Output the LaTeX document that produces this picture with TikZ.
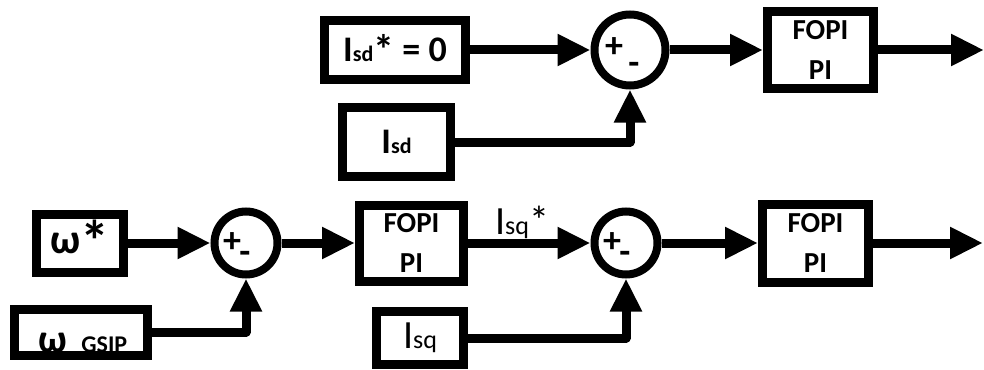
\documentclass[tikz,border=0pt]{standalone}
\usepackage{fontspec}
\setmainfont{Carlito}
\usetikzlibrary{arrows.meta}
\begin{document}
\begin{tikzpicture}[x=1pt,y=-1pt,
  box/.style={draw, line width=9pt, fill=white, inner sep=0pt, align=center},
  sumc/.style={draw, circle, line width=8pt, inner sep=0pt, fill=white},
  conn/.style={line width=9pt, line join=round, -{Triangle[length=33pt,width=30pt]}},
  sgn/.style={inner sep=0pt, font=\bfseries\fontsize{36}{36}\selectfont},
  big/.style={font=\bfseries\fontsize{36}{36}\selectfont},
  fopi/.style={box, font=\bfseries\fontsize{29}{40}\selectfont}]
\useasboundingbox (0,0) rectangle (984,369);
% top row
\node[box, big, minimum width=141pt, minimum height=59pt] (isdref) at (395,50) {I{\fontsize{22}{22}\selectfont sd}\smash{\raisebox{-3pt}{\fontsize{42}{42}\selectfont *}} = 0};
\node[sumc, minimum size=71pt] (s1) at (630,50) {};
\node[sgn] (s1p) at (614,48) {+};
\node[sgn] (s1m) at (634,68) {-};
\node[box, big, minimum width=108pt, minimum height=69pt] (isd) at (396.5,142) {I{\fontsize{22}{22}\selectfont sd}};
\node[fopi, minimum width=106pt, minimum height=76pt] (f1) at (820.5,50) {FOPI\\PI};
\coordinate (o1) at (984,50);
\draw[conn] (isdref) -- (s1);
\draw[conn] (s1) -- (f1);
\draw[conn] (f1) -- (o1);
\draw[conn] (isd.east) -| (s1.south);
% bottom row
\node[box, font=\bfseries\fontsize{42}{42}\selectfont, minimum width=87pt, minimum height=58pt] (w) at (80,243) {ω\smash{\raisebox{-8pt}{\fontsize{58}{58}\selectfont *}}};
\node[sumc, minimum size=63pt] (s2) at (246,243) {};
\node[sgn] (s2p) at (232,243) {+};
\node[sgn] (s2m) at (245,257) {-};
\node[fopi, minimum width=104pt, minimum height=76pt] (f2) at (411.5,243) {FOPI\\PI};
\node[anchor=base, inner sep=0pt, font=\fontsize{40}{40}\selectfont] (isqs) at (522,234) {I{\fontsize{26}{26}\selectfont sq}*};
\node[sumc, minimum size=63pt] (s3) at (626,243) {};
\node[sgn] (s3p) at (612,243) {+};
\node[sgn] (s3m) at (625,257) {-};
\node[fopi, minimum width=106pt, minimum height=78pt] (f3) at (815.5,243) {FOPI\\PI};
\coordinate (o2) at (983,243);
\node[box, outer sep=0pt, minimum width=133pt, minimum height=46pt] (wg) at (81,332) {};
\node[anchor=base, inner sep=0pt] (wgt) at (83,352) {\bfseries\fontsize{40}{40}\selectfont ω\hspace{14pt}{\fontsize{24}{24}\selectfont GSIP}};
\draw[line width=9pt] (wg.north west) rectangle (wg.south east);
\node[box, font=\fontsize{40}{40}\selectfont, minimum width=87pt, minimum height=53pt] (isq) at (420,338) {I{\fontsize{26}{26}\selectfont sq}};
\draw[conn] (w) -- (s2);
\draw[conn] (s2) -- (f2);
\draw[conn] (f2) -- (s3);
\draw[conn] (s3) -- (f3);
\draw[conn] (f3) -- (o2);
\draw[conn] (wg.east) -| (s2.south);
\draw[conn] (isq.east) -| (s3.south);
\end{tikzpicture}
\end{document}
